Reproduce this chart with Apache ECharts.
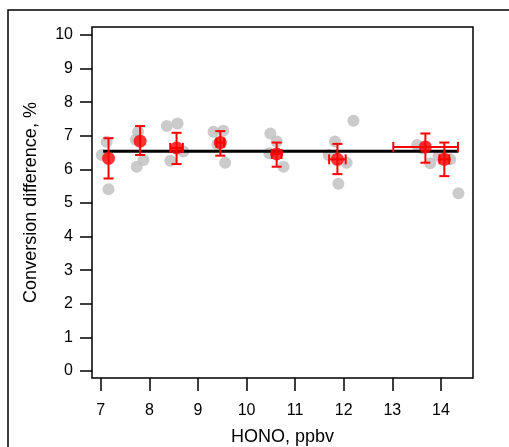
<!DOCTYPE html>
<html>
<head>
<meta charset="utf-8">
<script src="https://cdn.jsdelivr.net/npm/echarts@6/dist/echarts.min.js"></script>
<style>
  html, body { margin: 0; padding: 0; background: #fff; }
  #chart { width: 509px; height: 447px; }
</style>
</head>
<body>
<div id="chart"></div>
<script>
// Individual measurements (gray)
var rawHono = [7.12, 7.02, 7.16, 7.77, 7.72, 7.74, 7.88, 8.36, 8.58, 8.43, 8.70,
               9.32, 9.52, 9.56, 9.40, 10.49, 10.62, 10.47, 10.76,
               11.82, 11.69, 12.06, 11.89, 12.20, 13.51, 13.78, 13.62, 14.19, 14.36, 13.95];
var rawConv = [6.82, 6.43, 5.41, 7.12, 6.88, 6.08, 6.28, 7.29, 7.37, 6.26, 6.53,
               7.12, 7.15, 6.20, 6.75, 7.07, 6.83, 6.48, 6.08,
               6.83, 6.43, 6.20, 5.57, 7.45, 6.73, 6.18, 6.62, 6.30, 5.29, 6.40];

// Group means with error ranges (red)
var meanHono   = [7.16, 7.81, 8.56, 9.46, 10.62, 11.87, 13.68, 14.07];
var meanConv   = [6.33, 6.84, 6.64, 6.80, 6.46, 6.30, 6.67, 6.30];
var convLow    = [5.73, 6.43, 6.16, 6.41, 6.08, 5.86, 6.20, 5.80];
var convHigh   = [6.93, 7.29, 7.09, 7.14, 6.80, 6.76, 7.07, 6.80];
var honoLow    = [null, null, 8.43, 9.38, 10.52, 11.70, 13.02, 13.97];
var honoHigh   = [null, null, 8.69, 9.54, 10.72, 12.04, 14.35, 14.17];

// Overall average line
var avgHono = [7.05, 14.36];
var avgConv = [6.54, 6.54];

// Tick values
var xTicks = [7, 8, 9, 10, 11, 12, 13, 14];
var yTicks = [0, 1, 2, 3, 4, 5, 6, 7, 8, 9, 10];

var FONT = 'Liberation Sans, Arial, sans-serif';

var rawData = rawHono.map(function (x, i) { return [x, rawConv[i]]; });
var meanData = meanHono.map(function (x, i) { return [x, meanConv[i]]; });
var errData = meanHono.map(function (x, i) {
  return [x, meanConv[i], convLow[i], convHigh[i],
          honoLow[i] == null ? NaN : honoLow[i],
          honoHigh[i] == null ? NaN : honoHigh[i]];
});

function renderError(params, api) {
  var x = api.value(0), y = api.value(1);
  var lo = api.value(2), hi = api.value(3);
  var xl = api.value(4), xh = api.value(5);
  var style = { stroke: '#ff0000', lineWidth: 2 };
  var cap = 5;
  var pLo = api.coord([x, lo]);
  var pHi = api.coord([x, hi]);
  var children = [
    { type: 'line', shape: { x1: pLo[0], y1: pLo[1], x2: pHi[0], y2: pHi[1] }, style: style },
    { type: 'line', shape: { x1: pLo[0] - cap, y1: pLo[1], x2: pLo[0] + cap, y2: pLo[1] }, style: style },
    { type: 'line', shape: { x1: pHi[0] - cap, y1: pHi[1], x2: pHi[0] + cap, y2: pHi[1] }, style: style }
  ];
  if (!isNaN(xl) && !isNaN(xh)) {
    var qL = api.coord([xl, y]);
    var qH = api.coord([xh, y]);
    children.push(
      { type: 'line', shape: { x1: qL[0], y1: qL[1], x2: qH[0], y2: qH[1] }, style: style },
      { type: 'line', shape: { x1: qL[0], y1: qL[1] - cap, x2: qL[0], y2: qL[1] + cap }, style: style },
      { type: 'line', shape: { x1: qH[0], y1: qH[1] - cap, x2: qH[0], y2: qH[1] + cap }, style: style }
    );
  }
  return { type: 'group', children: children };
}

var chart = echarts.init(document.getElementById('chart'), null, { renderer: 'canvas' });
chart.setOption({
  animation: false,
  backgroundColor: '#fff',
  graphic: [{
    type: 'rect',
    shape: { x: 8, y: 10, width: 540, height: 480 },
    style: { fill: 'none', stroke: '#000', lineWidth: 1.5 },
    z: -1
  }],
  grid: {
    show: true, left: 92, top: 27, right: 36, bottom: 69,
    containLabel: false, outerBoundsMode: 'none',
    borderColor: '#000', borderWidth: 1.5, backgroundColor: 'transparent'
  },
  xAxis: {
    type: 'value', min: 6.82, max: 14.66,
    name: 'HONO, ppbv', nameLocation: 'middle', nameGap: 50,
    nameTextStyle: { fontFamily: FONT, fontSize: 18, color: '#000' },
    axisLine: { show: false, onZero: false },
    axisTick: { show: true, inside: false, length: 13, customValues: xTicks, lineStyle: { color: '#000', width: 1.5 } },
    axisLabel: { customValues: xTicks, margin: 25, fontFamily: FONT, fontSize: 16, color: '#000' },
    splitLine: { show: false }
  },
  yAxis: {
    type: 'value', min: -0.21, max: 10.24,
    name: 'Conversion difference, %', nameLocation: 'middle', nameGap: 52,
    nameTextStyle: { fontFamily: FONT, fontSize: 18, color: '#000' },
    axisLine: { show: false, onZero: false },
    axisTick: { show: true, inside: false, length: 12, customValues: yTicks, lineStyle: { color: '#000', width: 1.5 } },
    axisLabel: { customValues: yTicks, margin: 19, fontFamily: FONT, fontSize: 16, color: '#000' },
    splitLine: { show: false }
  },
  series: [
    {
      type: 'scatter', data: rawData, symbol: 'circle', symbolSize: 12,
      itemStyle: { color: '#bebebe' }, z: 1, silent: true
    },
    {
      type: 'line', data: avgHono.map(function (x, i) { return [x, avgConv[i]]; }),
      symbol: 'none', lineStyle: { color: '#000', width: 3 }, z: 2, silent: true
    },
    {
      type: 'custom', data: errData, renderItem: renderError, z: 3, silent: true,
      encode: { x: 0, y: 1 }
    },
    {
      type: 'scatter', data: meanData, symbol: 'circle', symbolSize: 13,
      itemStyle: { color: '#ff0000' }, z: 4, silent: true
    }
  ]
});
</script>
</body>
</html>
